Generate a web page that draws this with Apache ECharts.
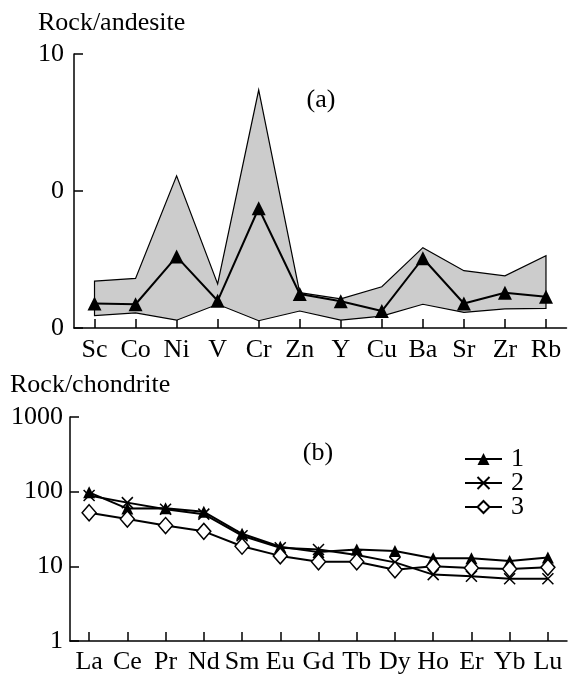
<!DOCTYPE html>
<html>
<head>
<meta charset="utf-8">
<script src="https://cdn.jsdelivr.net/npm/echarts@6/dist/echarts.min.js"></script>
<style>
  html, body { margin: 0; padding: 0; background: #fff; }
  #chart { width: 569px; height: 675px; }
</style>
</head>
<body>
<div id="chart"></div>
<script>
// (a) rock / andesite
const elementsA = ['Sc', 'Co', 'Ni', 'V', 'Cr', 'Zn', 'Y', 'Cu', 'Ba', 'Sr', 'Zr', 'Rb'];
const upperA = [2.2, 2.3, 12.9, 2.1, 54.6, 1.81, 1.63, 2.0, 3.86, 2.62, 2.4, 3.37];
const lowerA = [1.23, 1.29, 1.14, 1.49, 1.13, 1.33, 1.14, 1.22, 1.49, 1.30, 1.38, 1.39];
const meanA = [1.51, 1.49, 3.32, 1.58, 7.48, 1.77, 1.57, 1.33, 3.23, 1.51, 1.81, 1.69];
const tickLabelsA = { 1: '0', 10: '0', 100: '10' };

// (b) rock / chondrite
const elementsB = ['La', 'Ce', 'Pr', 'Nd', 'Sm', 'Eu', 'Gd', 'Tb', 'Dy', 'Ho', 'Er', 'Yb', 'Lu'];
const sample1 = [98, 59.4, 60, 53.8, 27.3, 18.3, 15.5, 16.8, 16.0, 12.8, 12.8, 11.8, 13.1];
const sample2 = [88.9, 71.3, 58.2, 50, 25.7, 17.7, 16.8, 14.2, 11.3, 7.75, 7.37, 6.8, 6.8];
const sample3 = [52.2, 43, 35.2, 29.4, 18.6, 13.8, 11.5, 11.5, 9.0, 10.0, 9.5, 9.2, 9.7];
const seriesNamesB = ['1', '2', '3'];

const font = 'Liberation Serif';
const black = '#000';

const chart = echarts.init(document.getElementById('chart'));

// axis line + inward ticks, same for all four axes
const axisLine = { show: true, lineStyle: { color: black, width: 1.5 } };
const axisTick = { show: true, inside: true, length: 9, lineStyle: { color: black, width: 1.5 } };

const crossSymbol = 'path://M0,0L10,10M10,0L0,10';

const option = {
  animation: false,
  grid: [
    { left: 74, right: 2.5, top: 54, bottom: 347 },
    { left: 70, right: 2, top: 417, bottom: 30 }
  ],
  xAxis: [
    {
      gridIndex: 0,
      type: 'category',
      data: elementsA,
      boundaryGap: true,
      axisLine,
      axisTick: { ...axisTick, alignWithLabel: true },
      splitLine: { show: false },
      axisLabel: { interval: 0, margin: 9, color: black, fontSize: 26, fontFamily: font }
    },
    {
      gridIndex: 1,
      type: 'category',
      data: elementsB,
      boundaryGap: true,
      axisLine,
      axisTick: { ...axisTick, alignWithLabel: true },
      splitLine: { show: false },
      axisLabel: { interval: 0, margin: 8, color: black, fontSize: 26, fontFamily: font }
    }
  ],
  yAxis: [
    {
      gridIndex: 0,
      type: 'log',
      logBase: 10,
      min: 1,
      max: 100,
      axisLine,
      axisTick,
      splitLine: { show: false },
      axisLabel: {
        margin: 10, color: black, fontSize: 26, fontFamily: font,
        formatter: v => tickLabelsA[Math.round(v)] || ''
      }
    },
    {
      gridIndex: 1,
      type: 'log',
      logBase: 10,
      min: 1,
      max: 1000,
      axisLine,
      axisTick,
      splitLine: { show: false },
      axisLabel: {
        margin: 7, color: black, fontSize: 26, fontFamily: font,
        formatter: v => String(Math.round(v))
      }
    }
  ],
  legend: {
    data: seriesNamesB,
    orient: 'vertical',
    left: 459,
    top: 441,
    itemWidth: 37,
    itemHeight: 15,
    itemGap: -2,
    textStyle: { color: black, fontSize: 26, fontFamily: font, lineHeight: 24, padding: [0, 0, 0, 4] }
  },
  graphic: [
    { type: 'text', left: 38, top: 10, style: { text: 'Rock/andesite', font: '26px "Liberation Serif"', fill: black } },
    { type: 'text', left: 10, top: 372, style: { text: 'Rock/chondrite', font: '26px "Liberation Serif"', fill: black } },
    { type: 'text', x: 321, y: 100, style: { text: '(a)', font: '26px "Liberation Serif"', fill: black, align: 'center', verticalAlign: 'middle' } },
    { type: 'text', x: 318, y: 453, style: { text: '(b)', font: '26px "Liberation Serif"', fill: black, align: 'center', verticalAlign: 'middle' } }
  ],
  series: [
    {
      name: 'range',
      type: 'custom',
      xAxisIndex: 0,
      yAxisIndex: 0,
      silent: true,
      data: [[0, 1]],
      renderItem: (params, api) => {
        const top = upperA.map((v, i) => api.coord([i, v]));
        const bottom = lowerA.map((v, i) => api.coord([i, v])).reverse();
        return {
          type: 'polygon',
          shape: { points: top.concat(bottom) },
          style: { fill: '#cccccc', stroke: black, lineWidth: 1.2 }
        };
      }
    },
    {
      name: 'mean',
      type: 'line',
      xAxisIndex: 0,
      yAxisIndex: 0,
      data: meanA,
      symbol: 'triangle',
      symbolSize: 14,
      lineStyle: { color: black, width: 2 },
      itemStyle: { color: black }
    },
    {
      name: '1',
      type: 'line',
      xAxisIndex: 1,
      yAxisIndex: 1,
      data: sample1,
      symbol: 'triangle',
      symbolSize: 12,
      lineStyle: { color: black, width: 2 },
      itemStyle: { color: black }
    },
    {
      name: '2',
      type: 'line',
      xAxisIndex: 1,
      yAxisIndex: 1,
      data: sample2,
      symbol: crossSymbol,
      symbolSize: 11,
      lineStyle: { color: black, width: 2 },
      itemStyle: { color: black, borderColor: black, borderWidth: 1.5 }
    },
    {
      name: '3',
      type: 'line',
      xAxisIndex: 1,
      yAxisIndex: 1,
      data: sample3,
      symbol: 'diamond',
      symbolSize: [14, 16],
      lineStyle: { color: black, width: 2 },
      itemStyle: { color: '#fff', borderColor: black, borderWidth: 1.5 }
    }
  ]
};

chart.setOption(option);
</script>
</body>
</html>
